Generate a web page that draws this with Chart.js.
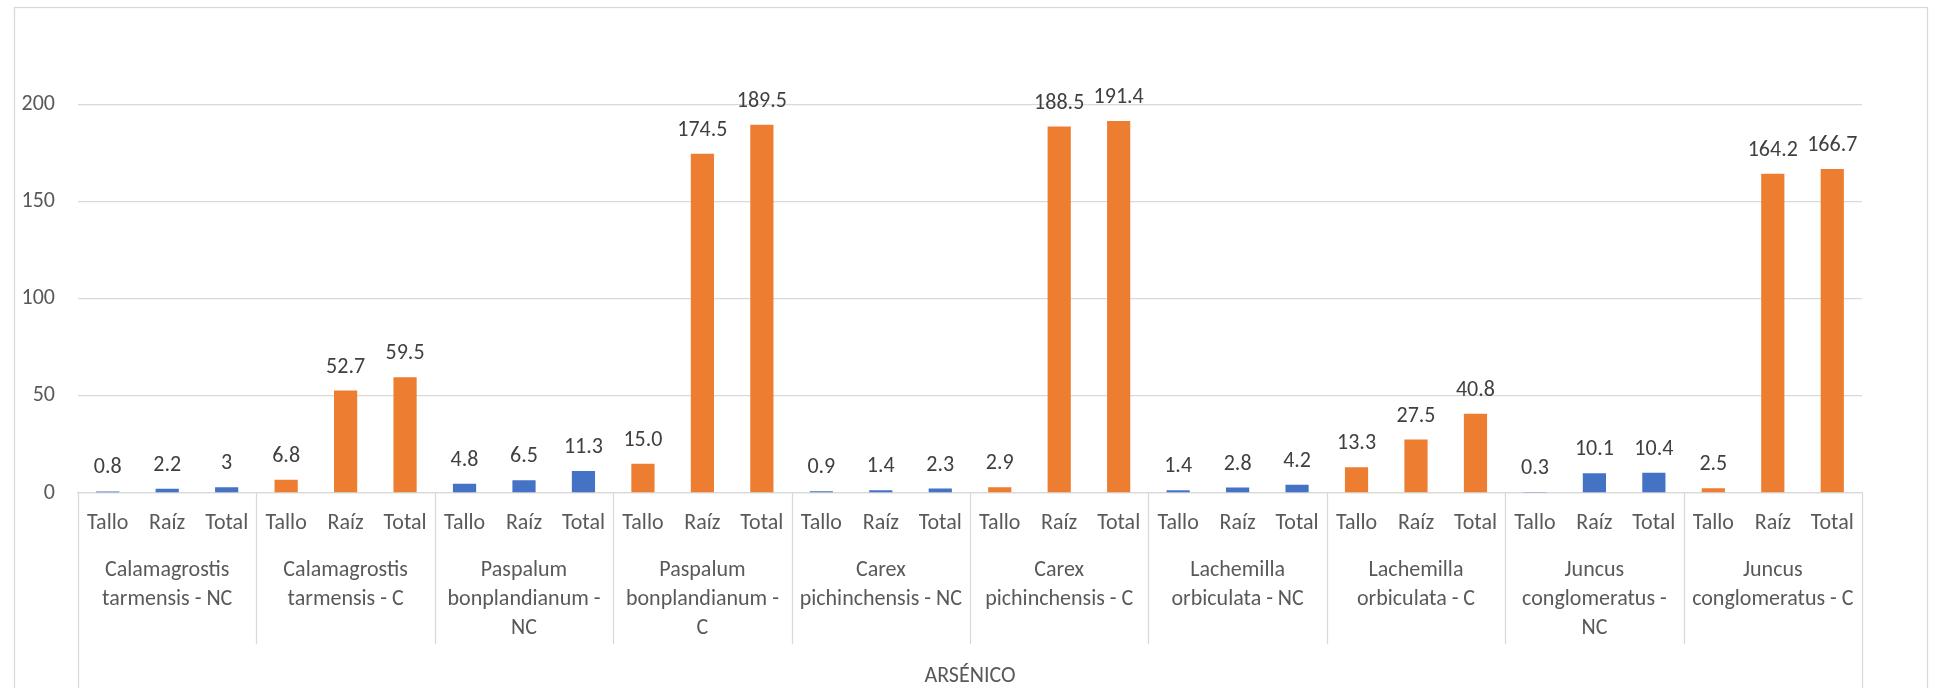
<!DOCTYPE html>
<html>
<head>
<meta charset="utf-8">
<script src="https://cdn.jsdelivr.net/npm/chart.js@4/dist/chart.umd.min.js"></script>
<style>
  body { margin: 0; background: #fff; }
  canvas { display: block; }
</style>
</head>
<body>
<canvas id="chart" width="1935" height="688"></canvas>
<script>
// category levels
const parts = ["Tallo", "Raíz", "Total"];
const groups = [
  ["Calamagrostis", "tarmensis - NC"],
  ["Calamagrostis", "tarmensis - C"],
  ["Paspalum", "bonplandianum -", "NC"],
  ["Paspalum", "bonplandianum -", "C"],
  ["Carex", "pichinchensis - NC"],
  ["Carex", "pichinchensis - C"],
  ["Lachemilla", "orbiculata - NC"],
  ["Lachemilla", "orbiculata - C"],
  ["Juncus", "conglomeratus -", "NC"],
  ["Juncus", "conglomeratus - C"],
];
const groupType = ["NC", "C", "NC", "C", "NC", "C", "NC", "C", "NC", "C"];
const outerCategory = "ARSÉNICO";

// values per part, one entry per group
const tallo = [0.8, 6.8, 4.8, 15.0, 0.9, 2.9, 1.4, 13.3, 0.3, 2.5];
const raiz = [2.2, 52.7, 6.5, 174.5, 1.4, 188.5, 2.8, 27.5, 10.1, 164.2];
const total = [3, 59.5, 11.3, 189.5, 2.3, 191.4, 4.2, 40.8, 10.4, 166.7];

// data labels as shown
const talloText = ["0.8", "6.8", "4.8", "15.0", "0.9", "2.9", "1.4", "13.3", "0.3", "2.5"];
const raizText = ["2.2", "52.7", "6.5", "174.5", "1.4", "188.5", "2.8", "27.5", "10.1", "164.2"];
const totalText = ["3", "59.5", "11.3", "189.5", "2.3", "191.4", "4.2", "40.8", "10.4", "166.7"];

const yTicks = [0, 50, 100, 150, 200];

const colors = { NC: "#4472C4", C: "#ED7D31" };
const FONT = "Carlito, Calibri, Lato, sans-serif";
const FONT_SIZE = 22;

const labels = [];
const values = [];
const valueText = [];
const barColors = [];
groups.forEach((g, k) => {
  const vals = [tallo[k], raiz[k], total[k]];
  const txt = [talloText[k], raizText[k], totalText[k]];
  parts.forEach((p, j) => {
    labels.push(p);
    values.push(vals[j]);
    valueText.push(txt[j]);
    barColors.push(colors[groupType[k]]);
  });
});

const frame = {
  id: "frame",
  beforeDraw(chart) {
    const ctx = chart.ctx;
    ctx.save();
    ctx.strokeStyle = "#D9D9D9";
    ctx.lineWidth = 1.3;
    ctx.strokeRect(14.5, 7.5, 1913, 720);
    ctx.restore();
  },
};

const valueLabels = {
  id: "valueLabels",
  afterDatasetsDraw(chart) {
    const ctx = chart.ctx;
    const meta = chart.getDatasetMeta(0);
    ctx.save();
    ctx.font = FONT_SIZE + "px " + FONT;
    ctx.fillStyle = "#404040";
    ctx.textAlign = "center";
    ctx.textBaseline = "alphabetic";
    meta.data.forEach((bar, i) => {
      ctx.fillText(valueText[i], bar.x, bar.y - 18);
    });
    ctx.restore();
  },
};

const multiAxis = {
  id: "multiAxis",
  afterDraw(chart) {
    const ctx = chart.ctx;
    const x = chart.scales.x;
    const top = x.top;
    const half = (x.getPixelForValue(1) - x.getPixelForValue(0)) / 2;
    ctx.save();
    ctx.font = FONT_SIZE + "px " + FONT;
    ctx.fillStyle = "#595959";
    ctx.textAlign = "center";
    ctx.textBaseline = "middle";
    labels.forEach((l, i) => {
      ctx.fillText(l, x.getPixelForValue(i), top + 30);
    });
    ctx.strokeStyle = "#D9D9D9";
    ctx.lineWidth = 1.3;
    groups.forEach((lines, k) => {
      const cx = (x.getPixelForValue(k * 3) + x.getPixelForValue(k * 3 + 2)) / 2;
      lines.forEach((t, n) => {
        ctx.fillText(t, cx, top + 77 + n * 29);
      });
      if (k > 0) {
        const sx = Math.round(x.getPixelForValue(k * 3) - half) + 0.5;
        ctx.beginPath();
        ctx.moveTo(sx, top);
        ctx.lineTo(sx, top + 151);
        ctx.stroke();
      }
    });
    [x.left, x.right].forEach((px) => {
      const sx = Math.round(px) + 0.5;
      ctx.beginPath();
      ctx.moveTo(sx, top);
      ctx.lineTo(sx, chart.height);
      ctx.stroke();
    });
    ctx.fillText(outerCategory, (x.left + x.right) / 2, top + 183);
    ctx.restore();
  },
};

new Chart(document.getElementById("chart"), {
  type: "bar",
  data: {
    labels: labels,
    datasets: [
      {
        data: values,
        backgroundColor: barColors,
        barPercentage: 0.39,
        categoryPercentage: 1,
      },
    ],
  },
  options: {
    responsive: false,
    animation: false,
    devicePixelRatio: 1,
    layout: { padding: { left: 0, right: 73, top: 15, bottom: 0 } },
    plugins: {
      legend: { display: false },
      tooltip: { enabled: false },
    },
    scales: {
      x: {
        grid: { display: false },
        border: { display: true, color: "#D9D9D9", width: 1.3 },
        ticks: { display: false },
        afterFit: (s) => {
          s.height = 195;
        },
      },
      y: {
        min: 0,
        max: 235,
        afterBuildTicks: (s) => {
          s.ticks = yTicks.map((v) => ({ value: v }));
        },
        afterFit: (s) => {
          s.width = 78;
        },
        grid: { color: "#D9D9D9", lineWidth: 1.3, drawTicks: false },
        border: { display: false },
        ticks: {
          padding: 23,
          color: "#595959",
          font: { family: FONT, size: FONT_SIZE },
        },
      },
    },
  },
  plugins: [frame, valueLabels, multiAxis],
});
</script>
</body>
</html>
